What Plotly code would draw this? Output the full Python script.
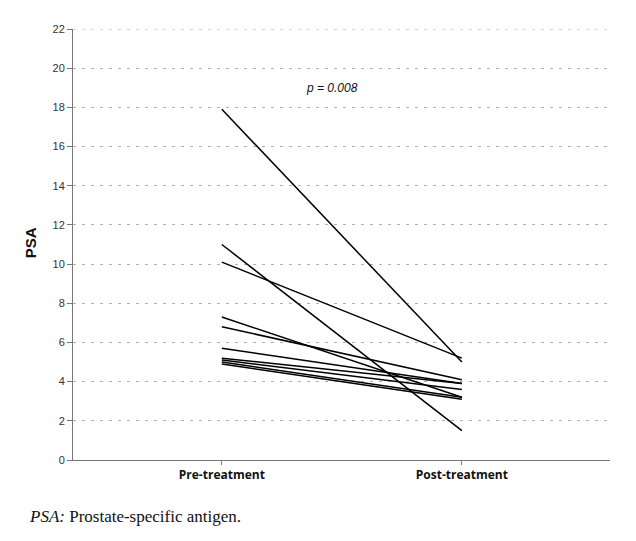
import plotly.graph_objects as go

categories = ["Pre-treatment", "Post-treatment"]
pre_values = [17.9, 11.0, 10.1, 7.3, 6.8, 5.7, 5.2, 5.1, 5.0, 4.9]
post_values = [5.0, 1.5, 5.2, 3.2, 4.1, 3.9, 3.9, 3.6, 3.2, 3.1]
y_ticks = [0, 2, 4, 6, 8, 10, 12, 14, 16, 18, 20, 22]
p_label = "p = 0.008"
caption_abbr = "PSA:"
caption_text = " Prostate-specific antigen."

x_pos = list(range(len(categories)))

fig = go.Figure()
for pre, post in zip(pre_values, post_values):
    fig.add_trace(go.Scatter(
        x=x_pos, y=[pre, post], mode="lines",
        line=dict(color="black", width=1.5),
        showlegend=False, hoverinfo="skip",
    ))

# top gridline (plotly omits gridlines at the range edge)
fig.add_hline(y=y_ticks[-1], line=dict(color="#b0b0b0", width=1, dash="3px,6px"), layer="below")

fig.update_layout(
    width=636, height=541,
    margin=dict(l=65, r=34, t=21, b=89),
    paper_bgcolor="white", plot_bgcolor="white",
    font=dict(family="Arial, Liberation Sans, sans-serif", color="#222"),
    xaxis=dict(
        range=[-0.62, 1.617],
        tickmode="array", tickvals=x_pos, ticktext=categories,
        tickfont=dict(size=12, color="#111", family="Open Sans, Arial, sans-serif", weight="bold"),
        showgrid=False, zeroline=False,
        showline=True, linecolor="#777", linewidth=1,
        ticks="outside", ticklen=4, tickcolor="#777",
    ),
    yaxis=dict(
        range=[0, 22],
        tickmode="array", tickvals=y_ticks,
        tickfont=dict(size=11, color="#333"),
        showgrid=True, gridcolor="#b0b0b0", gridwidth=1, griddash="3px,6px",
        zeroline=False,
        showline=True, linecolor="#777", linewidth=1,
        ticks="outside", ticklen=5, tickcolor="#777",
    ),
    annotations=[
        dict(text="<i>" + p_label + "</i>", x=0.458, y=19.0, xref="x", yref="y",
             xanchor="center", showarrow=False, font=dict(size=12, color="#111")),
        dict(text="<b>PSA</b>", x=-0.08, y=0.503, xref="paper", yref="paper",
             xanchor="center", yanchor="middle",
             textangle=-90, showarrow=False, font=dict(size=15, color="#111")),
        dict(text="<i>" + caption_abbr + "</i>" + caption_text,
             x=-0.0857, y=-0.132, xref="paper", yref="paper",
             xanchor="left", yanchor="middle", showarrow=False,
             font=dict(size=17, color="#111", family="Liberation Serif, Times New Roman, serif")),
    ],
)

fig.write_html("out.html")
